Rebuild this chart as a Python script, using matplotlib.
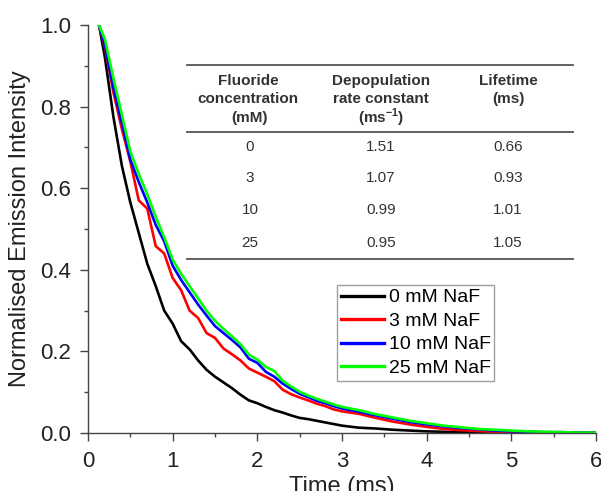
import matplotlib
matplotlib.use("Agg")
import matplotlib.pyplot as plt  # noqa: E402
from matplotlib.lines import Line2D  # noqa: E402

plt.rcParams["font.family"] = ["Liberation Sans", "DejaVu Sans"]
plt.rcParams["mathtext.fontset"] = "custom"
plt.rcParams["mathtext.rm"] = "Liberation Sans"
plt.rcParams["mathtext.bf"] = "Liberation Sans:bold"

# time axis (ms) shared by all decays
time_ms = [0.13, 0.2, 0.3, 0.4, 0.5, 0.6, 0.7, 0.8, 0.9, 1.0,
           1.1, 1.2, 1.3, 1.4, 1.5, 1.6, 1.7, 1.8, 1.9, 2.0,
           2.1, 2.2, 2.3, 2.4, 2.5, 2.6, 2.7, 2.8, 2.9, 3.0,
           3.2, 3.4, 3.6, 3.8, 4.0, 4.2, 4.4, 4.6, 4.8, 5.0,
           5.2, 5.4, 5.6, 5.8, 6.0]

naf_0 = [1.000, 0.920, 0.775, 0.655, 0.565, 0.490, 0.415, 0.360, 0.300, 0.268,
         0.225, 0.205, 0.178, 0.155, 0.138, 0.124, 0.110, 0.094, 0.080, 0.073,
         0.064, 0.056, 0.050, 0.043, 0.037, 0.034, 0.030, 0.026, 0.022, 0.018,
         0.013, 0.011, 0.008, 0.006, 0.004, 0.003, 0.002, 0.001, 0.001, 0.001,
         0.000, 0.000, 0.000, 0.000, 0.000]

naf_3 = [1.000, 0.945, 0.835, 0.745, 0.665, 0.570, 0.550, 0.458, 0.440, 0.380,
         0.350, 0.300, 0.282, 0.245, 0.233, 0.207, 0.193, 0.178, 0.158, 0.148,
         0.138, 0.127, 0.106, 0.095, 0.087, 0.080, 0.072, 0.066, 0.058, 0.053,
         0.047, 0.037, 0.028, 0.021, 0.015, 0.010, 0.007, 0.005, 0.003, 0.002,
         0.001, 0.001, 0.000, 0.000, 0.000]

naf_10 = [1.000, 0.950, 0.846, 0.760, 0.670, 0.615, 0.565, 0.510, 0.470, 0.410,
          0.375, 0.345, 0.315, 0.288, 0.262, 0.245, 0.228, 0.210, 0.182, 0.172,
          0.150, 0.138, 0.121, 0.108, 0.096, 0.088, 0.079, 0.073, 0.066, 0.060,
          0.052, 0.043, 0.035, 0.027, 0.021, 0.016, 0.012, 0.009, 0.006, 0.004,
          0.003, 0.002, 0.002, 0.001, 0.001]

naf_25 = [1.000, 0.965, 0.870, 0.780, 0.690, 0.635, 0.585, 0.530, 0.480, 0.425,
          0.390, 0.360, 0.330, 0.300, 0.275, 0.255, 0.237, 0.218, 0.192, 0.180,
          0.162, 0.152, 0.128, 0.114, 0.101, 0.092, 0.084, 0.077, 0.070, 0.064,
          0.056, 0.046, 0.038, 0.030, 0.024, 0.018, 0.014, 0.010, 0.008, 0.006,
          0.004, 0.003, 0.002, 0.001, 0.001]

series_labels = ["0 mM NaF", "3 mM NaF", "10 mM NaF", "25 mM NaF"]
series_colors = ["#000000", "#ff0000", "#0000ff", "#00ff00"]

# inset table
table_conc = ["0", "3", "10", "25"]
table_rate = ["1.51", "1.07", "0.99", "0.95"]
table_life = ["0.66", "0.93", "1.01", "1.05"]

W, H = 601, 491
fig = plt.figure(figsize=(W / 100, H / 100), dpi=100)
ax = fig.add_axes([88 / W, 1 - 433 / H, 508 / W, 408 / H])


def px(x, y):
    return x / W, 1 - y / H


for ys, lab, col in zip([naf_0, naf_3, naf_10, naf_25], series_labels, series_colors):
    ax.plot(time_ms, ys, color=col, lw=1.9, label=lab)

ax.set_xlim(0, 6)
ax.set_ylim(0, 1.0)
ax.set_xticks(range(7))
ax.set_xticks([0.5, 1.5, 2.5, 3.5, 4.5, 5.5], minor=True)
ax.set_yticks([0.0, 0.2, 0.4, 0.6, 0.8, 1.0])
ax.set_yticks([0.1, 0.3, 0.5, 0.7, 0.9], minor=True)
ax.set_yticklabels(["0.0", "0.2", "0.4", "0.6", "0.8", "1.0"])
for s in ["top", "right"]:
    ax.spines[s].set_visible(False)
for s in ["left", "bottom"]:
    ax.spines[s].set_color("#444444")
    ax.spines[s].set_linewidth(1.0)
ax.tick_params(which="major", length=6, width=1.0, color="#444444", labelsize=16,
               labelcolor="#222222")
ax.tick_params(axis="x", which="major", pad=7)
ax.tick_params(axis="y", which="major", pad=6)
ax.tick_params(which="minor", length=3, width=1.0, color="#444444")

ax.set_xlabel("Time (ms)", fontsize=17, color="#222222", va="top")
ax.xaxis.set_label_coords(0.5, -0.105)
ax.set_ylabel("Normalised Emission Intensity", fontsize=17, color="#222222")
ax.yaxis.set_label_coords(-0.113, 0.5)

leg = ax.legend(loc="upper left", bbox_to_anchor=px(337, 285), bbox_transform=fig.transFigure,
                fontsize=14, frameon=True, fancybox=False, borderaxespad=0, borderpad=0.2,
                handlelength=2.2, handletextpad=0.25, labelspacing=0.3)
leg.get_frame().set_edgecolor("#888888")
leg.get_frame().set_linewidth(1.0)
for h in leg.get_lines():
    h.set_linewidth(2.4)

# table rules
for yline in [65, 132, 259]:
    fig.add_artist(Line2D([187 / W, 573 / W], [1 - yline / H] * 2, color="#555555", lw=1.3))

hdr = dict(fontsize=11, fontweight="bold", color="#333333", ha="center", va="center")
fig.text(*px(248, 81), "Fluoride", **hdr)
fig.text(*px(248, 99), "concentration", **hdr)
fig.text(*px(249, 118), "(mM)", **hdr)
fig.text(*px(381, 81), "Depopulation", **hdr)
fig.text(*px(381, 99), "rate constant", **hdr)
fig.text(*px(381, 118), r"(ms$^{\mathbf{-1}}$)", **hdr)
fig.text(*px(508, 81), "Lifetime", **hdr)
fig.text(*px(508, 99), "(ms)", **hdr)

cell = dict(fontsize=11, color="#333333", ha="center", va="center")
row_y = [147, 178, 210, 243]
for yy, c, r, l in zip(row_y, table_conc, table_rate, table_life):
    fig.text(*px(250, yy), c, **cell)
    fig.text(*px(381, yy), r, **cell)
    fig.text(*px(508, yy), l, **cell)

fig.savefig("out.png", dpi=100)
